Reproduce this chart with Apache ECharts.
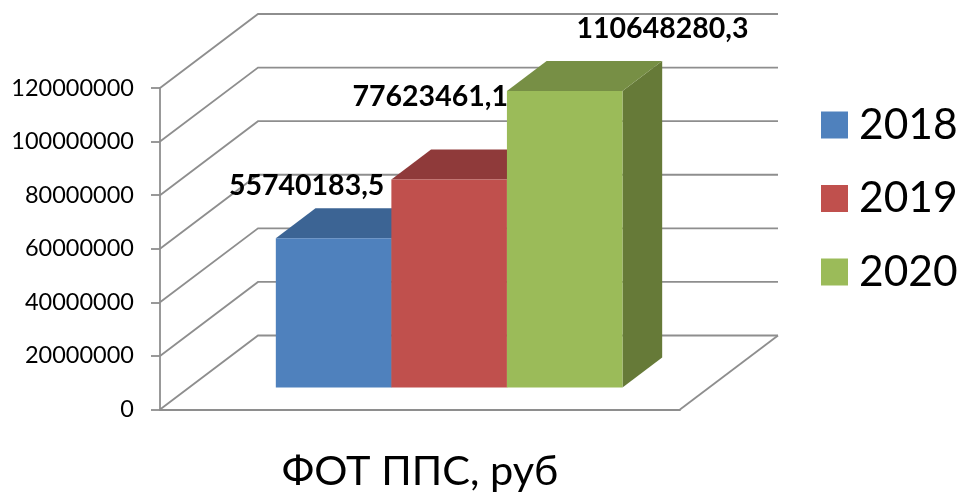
<!DOCTYPE html>
<html>
<head>
<meta charset="utf-8">
<style>html,body{margin:0;padding:0;background:#fff}#c{width:961px;height:495px}</style>
<script src="https://cdn.jsdelivr.net/npm/echarts@6/dist/echarts.min.js"></script>
</head>
<body>
<div id="c"></div>
<script>
const categories = ['ФОТ ППС, руб'];
const years = ['2018', '2019', '2020'];
const values2018 = [55740183.5];
const values2019 = [77623461.1];
const values2020 = [110648280.3];
const tickValues = [0, 20000000, 40000000, 60000000, 80000000, 100000000, 120000000];

const frontColors = ['#4F81BD', '#C0504D', '#9BBB59'];
const topColors = ['#3C6494', '#8F3A3A', '#778F45'];
const sideColors = ['#2F4D71', '#6F2E2C', '#667A38'];
const labelShiftX = [-7, 1, 126];
const labelShiftY = [-52, -83, -62];

const FONT = 'Lato, "Open Sans", sans-serif';
const GREY = '#8E8E8E';
const LINE_W = 1.8;
const wallDX = 98, wallDY = -74;
const gapWidth = 0.75;     // gap at each side, in bar widths
const barDepth = 0.405;    // share of the floor depth taken by the bars
const barFront = (1 - barDepth) / 2;

const chart = echarts.init(document.getElementById('c'), null, {renderer: 'canvas'});

function wallItem(params, api) {
  const v = api.value(0);
  const a = api.coord([0, v]);
  const band = api.size([1, 0])[0];
  const x0 = a[0] - band / 2, x1 = a[0] + band / 2, y = a[1];
  const style = {stroke: GREY, lineWidth: LINE_W, fill: null};
  const children = [{
    type: 'polyline', silent: true,
    shape: {points: [[x0, y], [x0 + wallDX, y + wallDY], [x1 + wallDX, y + wallDY]]},
    style
  }];
  if (v === 0) {
    children.push({
      type: 'polyline', silent: true,
      shape: {points: [[x1, y], [x1 + wallDX, y + wallDY]]},
      style
    });
  }
  return {type: 'group', children};
}

function barItem(idx) {
  return function (params, api) {
    const v = api.value(1);
    const base = api.coord([0, 0]);
    const topPt = api.coord([0, v]);
    const band = api.size([1, 0])[0];
    const w = band / (years.length + 2 * gapWidth);
    const fx = base[0] - band / 2 + barFront * wallDX + w * (gapWidth + idx);
    const by = base[1] + barFront * wallDY;
    const ty = topPt[1] + barFront * wallDY;
    const dx = barDepth * wallDX, dy = barDepth * wallDY;
    const r = fx + w;
    return {
      type: 'group',
      children: [
        {type: 'polygon', silent: true, shape: {points: [[r, ty], [r + dx, ty + dy], [r + dx, by + dy], [r, by]]}, style: {fill: sideColors[idx]}},
        {type: 'polygon', silent: true, shape: {points: [[fx, ty], [fx + dx, ty + dy], [r + dx, ty + dy], [r, ty]]}, style: {fill: topColors[idx]}},
        {type: 'rect', silent: true, shape: {x: fx, y: ty, width: w, height: by - ty}, style: {fill: frontColors[idx]}},
        {type: 'text', silent: true, z2: 50, x: r + labelShiftX[idx], y: ty + labelShiftY[idx],
          style: {text: String(v).replace('.', ','), align: 'right', verticalAlign: 'middle',
                  font: 'bold 28.5px ' + FONT, fill: '#000'}}
      ]
    };
  };
}

function barSeries(idx, values) {
  return {
    name: years[idx], type: 'custom', clip: false, z: 5 + idx,
    itemStyle: {color: frontColors[idx]},
    encode: {x: 0, y: 1},
    data: values.map((v, i) => [categories[i], v]),
    renderItem: barItem(idx)
  };
}

chart.setOption({
  animation: false,
  backgroundColor: '#fff',
  textStyle: {fontFamily: FONT},
  grid: {left: 160, right: 281, top: 88, bottom: 85.5, containLabel: false},
  legend: {
    orient: 'vertical', left: 821, top: 103.5, padding: 0,
    data: years, icon: 'rect', itemWidth: 27, itemHeight: 27, itemGap: 30.5,
    selectedMode: false,
    textStyle: {fontFamily: FONT, fontSize: 42.5, color: '#000', padding: [0, 0, 0, 6]}
  },
  xAxis: {
    type: 'category', data: categories,
    axisLine: {lineStyle: {color: GREY, width: LINE_W}},
    axisTick: {length: 15, lineStyle: {color: GREY, width: LINE_W}},
    axisLabel: {fontFamily: FONT, fontSize: 41.5, color: '#000', margin: 41},
    splitLine: {show: false}
  },
  yAxis: {
    type: 'value', min: 0, max: 120000000, interval: 20000000,
    axisLine: {show: true, lineStyle: {color: GREY, width: LINE_W}},
    axisTick: {show: true, length: 9, lineStyle: {color: GREY, width: LINE_W}},
    axisLabel: {fontFamily: FONT, fontSize: 23.5, color: '#000', margin: 26, formatter: v => String(v)},
    splitLine: {show: false}
  },
  series: [
    {name: 'Сетка', type: 'custom', clip: false, z: 1, silent: true,
     encode: {y: 0}, data: tickValues.map(v => [v]), renderItem: wallItem},
    barSeries(0, values2018),
    barSeries(1, values2019),
    barSeries(2, values2020)
  ]
});
</script>
</body>
</html>
